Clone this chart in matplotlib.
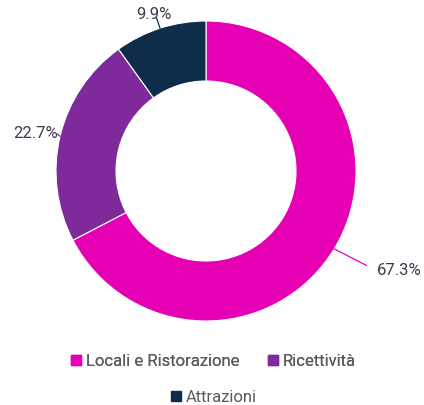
import numpy as np
import matplotlib.pyplot as plt
from matplotlib.lines import Line2D

categories = ["Locali e Ristorazione", "Ricettività", "Attrazioni"]
shares = [67.3, 22.7, 9.9]
colors = ["#E600B4", "#7F2A9A", "#0F2D4A"]
text_color = "#3B3B4F"

plt.rcParams["font.family"] = ["Roboto", "DejaVu Sans"]

fig = plt.figure(figsize=(4.24, 4.06), dpi=100)
# pie axes: centre (206,172) px, radius 150 px
ax = fig.add_axes([56 / 424, (406 - 322) / 406, 300 / 424, 300 / 406])
wedges, _ = ax.pie(shares, colors=colors, startangle=90, counterclock=False,
                   radius=1.0, wedgeprops=dict(width=0.4, edgecolor="white", linewidth=0.8))
ax.set_xlim(-1, 1)
ax.set_ylim(-1, 1)
ax.set_aspect("equal")
ax.axis("off")

# label positions / connector ends (data units) for each slice
label_pos = [(1.14, -0.655), (-0.99, 0.26), (-0.35, 1.05)]
line_end = [(1.07, -0.63), (-0.99, 0.245), (-0.33, 1.02)]
aligns = ["left", "right", "center"]
for w, pct, lp, le, c, ha in zip(wedges, shares, label_pos, line_end, colors, aligns):
    ang = np.deg2rad((w.theta1 + w.theta2) / 2)
    x0, y0 = np.cos(ang), np.sin(ang)
    ax.plot([x0, le[0]], [y0, le[1]], color=c, lw=0.9, clip_on=False)
    ax.text(lp[0], lp[1], f"{pct:.1f}%", ha=ha, va="center", fontsize=12,
            color=text_color)

def handle(c):
    return Line2D([], [], marker="s", linestyle="none", markersize=7,
                  markerfacecolor=c, markeredgecolor=c)

leg1 = fig.legend([handle(colors[0]), handle(colors[1])], categories[:2],
                  loc="center", bbox_to_anchor=(0.5, 1 - 362 / 406), ncol=2,
                  frameon=False, fontsize=12, handletextpad=0.1, columnspacing=1.5,
                  handlelength=1.0, labelcolor="#5a5a5a")
leg2 = fig.legend([handle(colors[2])], categories[2:],
                  loc="center", bbox_to_anchor=(0.5, 1 - 398 / 406),
                  frameon=False, fontsize=12, handletextpad=0.1,
                  handlelength=1.0, labelcolor="#5a5a5a")
fig.add_artist(leg1)

fig.savefig("out.png", dpi=100)
